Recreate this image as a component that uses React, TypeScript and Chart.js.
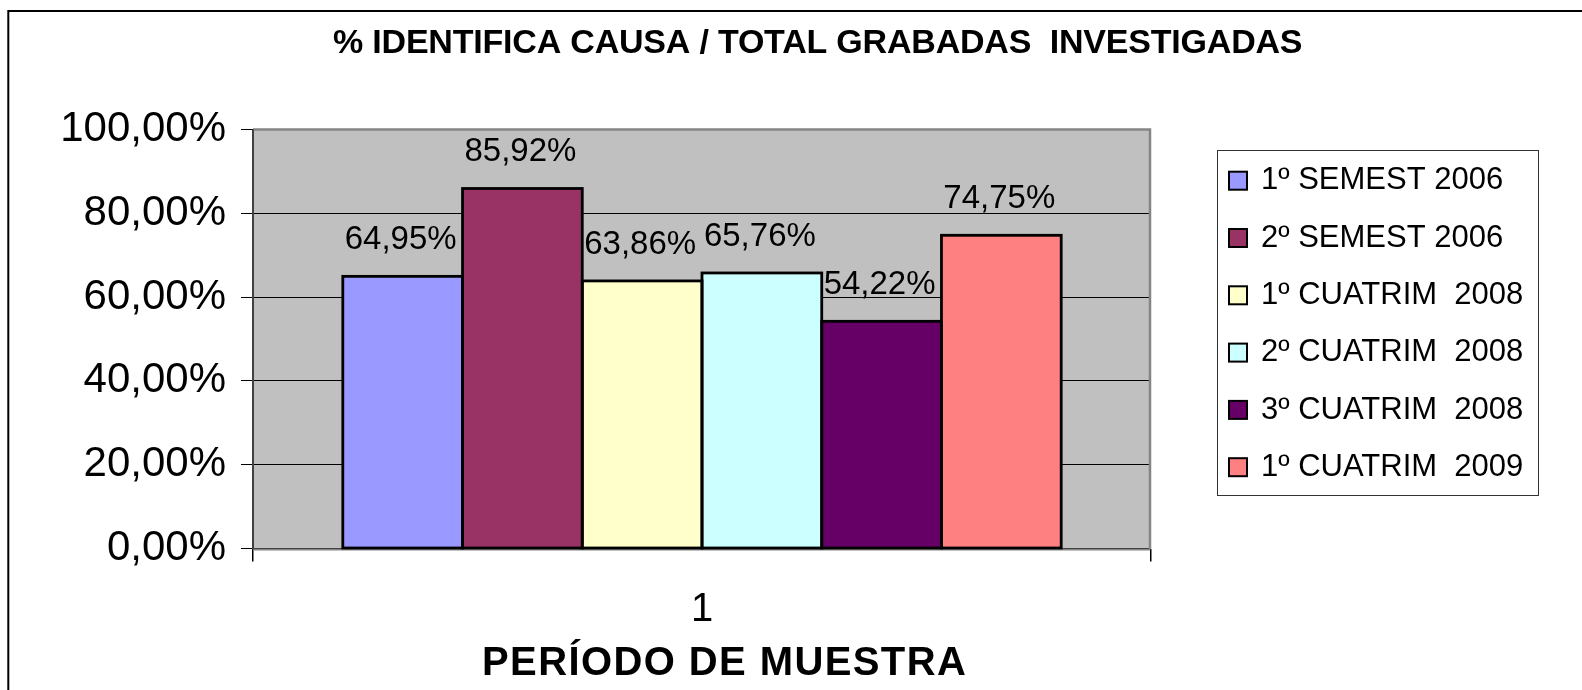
import React, { useEffect, useRef } from 'react';
import { Chart, registerables } from 'chart.js';

Chart.register(...registerables);

// ---- data ----
const categories: string[] = ['1'];
const seriesLabels: string[] = [
  '1º SEMEST 2006',
  '2º SEMEST 2006',
  '1º CUATRIM  2008',
  '2º CUATRIM  2008',
  '3º CUATRIM  2008',
  '1º CUATRIM  2009',
];
const seriesValues: number[] = [64.95, 85.92, 63.86, 65.76, 54.22, 74.75];
const seriesColors: string[] = ['#9999FF', '#993366', '#FFFFCC', '#CCFFFF', '#660066', '#FF8080'];
const yTicks: number[] = [0, 20, 40, 60, 80, 100];
const chartTitle = '% IDENTIFICA CAUSA / TOTAL GRABADAS  INVESTIGADAS';
const xAxisTitle = 'PERÍODO DE MUESTRA';

const FONT = '"Liberation Sans", Arial, Helvetica, sans-serif';
const fmtPct = (v: number) => v.toFixed(2).replace('.', ',') + '%';

const W = 1582;
const H = 690;

const decorPlugin = {
  id: 'decor',
  beforeDraw(chart: any) {
    const { ctx, chartArea: a } = chart;
    ctx.save();
    ctx.fillStyle = '#ffffff';
    ctx.fillRect(0, 0, chart.width, chart.height);
    ctx.fillStyle = '#C0C0C0';
    ctx.fillRect(a.left, a.top, a.right - a.left, a.bottom - a.top);
    ctx.restore();
  },
  beforeDatasetsDraw(chart: any) {
    const { ctx, chartArea: a } = chart;
    ctx.save();
    ctx.strokeStyle = '#858585';
    ctx.lineWidth = 2.5;
    ctx.beginPath();
    ctx.moveTo(a.left, a.top);
    ctx.lineTo(a.right - 1, a.top);
    ctx.lineTo(a.right - 1, a.bottom + 1);
    ctx.stroke();
    ctx.lineWidth = 2;
    ctx.beginPath();
    ctx.moveTo(a.left, a.bottom + 1);
    ctx.lineTo(a.right - 1, a.bottom + 1);
    ctx.stroke();
    ctx.strokeStyle = '#404040';
    ctx.lineWidth = 2;
    ctx.beginPath();
    ctx.moveTo(a.left, a.top);
    ctx.lineTo(a.left, a.bottom + 1);
    ctx.stroke();
    ctx.restore();
  },
  afterDatasetsDraw(chart: any) {
    const { ctx } = chart;
    ctx.save();
    // bar outlines (centred on bar edges, like the reference)
    ctx.strokeStyle = '#000';
    ctx.lineWidth = 2.8;
    chart.data.datasets.forEach((ds: any, i: number) => {
      const meta = chart.getDatasetMeta(i);
      meta.data.forEach((el: any) => {
        const { x, y, base, width } = el.getProps(['x', 'y', 'base', 'width'], true);
        ctx.strokeRect(x - width / 2, y, width, base - y);
      });
    });
    ctx.fillStyle = '#000';
    ctx.font = `33px ${FONT}`;
    ctx.textAlign = 'center';
    ctx.textBaseline = 'alphabetic';
    chart.data.datasets.forEach((ds: any, i: number) => {
      const meta = chart.getDatasetMeta(i);
      meta.data.forEach((el: any, j: number) => {
        ctx.fillText(fmtPct(ds.data[j]), el.x - 2, el.y - 27);
      });
    });
    ctx.restore();
  },
  afterDraw(chart: any) {
    const { ctx } = chart;
    ctx.save();
    ctx.fillStyle = '#000';
    ctx.font = `bold 34px ${FONT}`;
    ctx.textAlign = 'left';
    ctx.textBaseline = 'alphabetic';
    (ctx as any).letterSpacing = '-0.2px';
    ctx.fillText(chartTitle, 333, 53);
    ctx.font = `bold 40px ${FONT}`;
    (ctx as any).letterSpacing = '1.4px';
    ctx.fillText(xAxisTitle, 482, 675);
    (ctx as any).letterSpacing = '0px';

    // legend
    const lx = 1217, ly = 150, lw = 321, lh = 345;
    ctx.strokeStyle = '#333';
    ctx.lineWidth = 1;
    ctx.strokeRect(lx + 0.5, ly + 0.5, lw, lh);
    ctx.font = `31px ${FONT}`;
    chart.data.datasets.forEach((ds: any, i: number) => {
      const base = 189.3 + i * 57.3;
      const sy = base - 18.6;
      ctx.fillStyle = '#000';
      ctx.fillRect(1228, sy, 20, 20);
      ctx.fillStyle = ds.backgroundColor;
      ctx.fillRect(1230, sy + 2, 16, 16);
      ctx.fillStyle = '#000';
      ctx.fillText(ds.label, 1261, base);
    });

    // outer border
    ctx.strokeStyle = '#000';
    ctx.lineWidth = 2;
    ctx.beginPath();
    ctx.moveTo(8.3, H + 5);
    ctx.lineTo(8.3, 11);
    ctx.lineTo(W + 5, 11);
    ctx.stroke();
    ctx.restore();
  },
};

export default function App() {
  const canvasRef = useRef<HTMLCanvasElement | null>(null);

  useEffect(() => {
    if (!canvasRef.current) return;
    const chart = new Chart(canvasRef.current, {
      type: 'bar',
      data: {
        labels: categories,
        datasets: seriesLabels.map((label, i) => ({
          label,
          data: [seriesValues[i]],
          backgroundColor: seriesColors[i],
          borderColor: '#000',
          borderWidth: 0,
          borderSkipped: false,
          inflateAmount: 0,
          categoryPercentage: 0.8,
          barPercentage: 1.0,
        })),
      },
      options: {
        responsive: false,
        animation: false,
        events: [],
        layout: { padding: { top: 129.5, left: 0, right: W - 1151, bottom: 0 } },
        plugins: {
          legend: { display: false },
          title: { display: false },
          tooltip: { enabled: false },
        },
        scales: {
          x: {
            type: 'category',
            offset: true,
            afterFit: (scale: any) => {
              scale.height = H - 548.5;
            },
            grid: {
              offset: true,
              drawOnChartArea: false,
              drawTicks: true,
              tickLength: 13,
              color: '#000',
              lineWidth: 1.5,
            },
            border: { display: false },
            ticks: {
              color: '#000',
              padding: 24,
              font: { family: FONT, size: 40 },
            },
          },
          y: {
            min: 0,
            max: 100,
            afterFit: (scale: any) => {
              scale.width = 253;
            },
            afterBuildTicks: (scale: any) => {
              scale.ticks = yTicks.map((v) => ({ value: v }));
            },
            grid: {
              color: '#000',
              lineWidth: 1,
              tickLength: 12,
              drawTicks: true,
            },
            border: { display: false },
            ticks: {
              color: '#000',
              padding: 15,
              font: { family: FONT, size: 42 },
              callback: (v: any) => fmtPct(Number(v)),
            },
          },
        },
      },
      plugins: [decorPlugin],
    } as any);
    return () => chart.destroy();
  }, []);

  return (
    <div style={{ position: 'fixed', left: 0, top: 0, width: W, height: H, overflow: 'hidden', background: '#fff' }}>
      <canvas ref={canvasRef} width={W} height={H} style={{ display: 'block', width: W, height: H }} />
    </div>
  );
}
